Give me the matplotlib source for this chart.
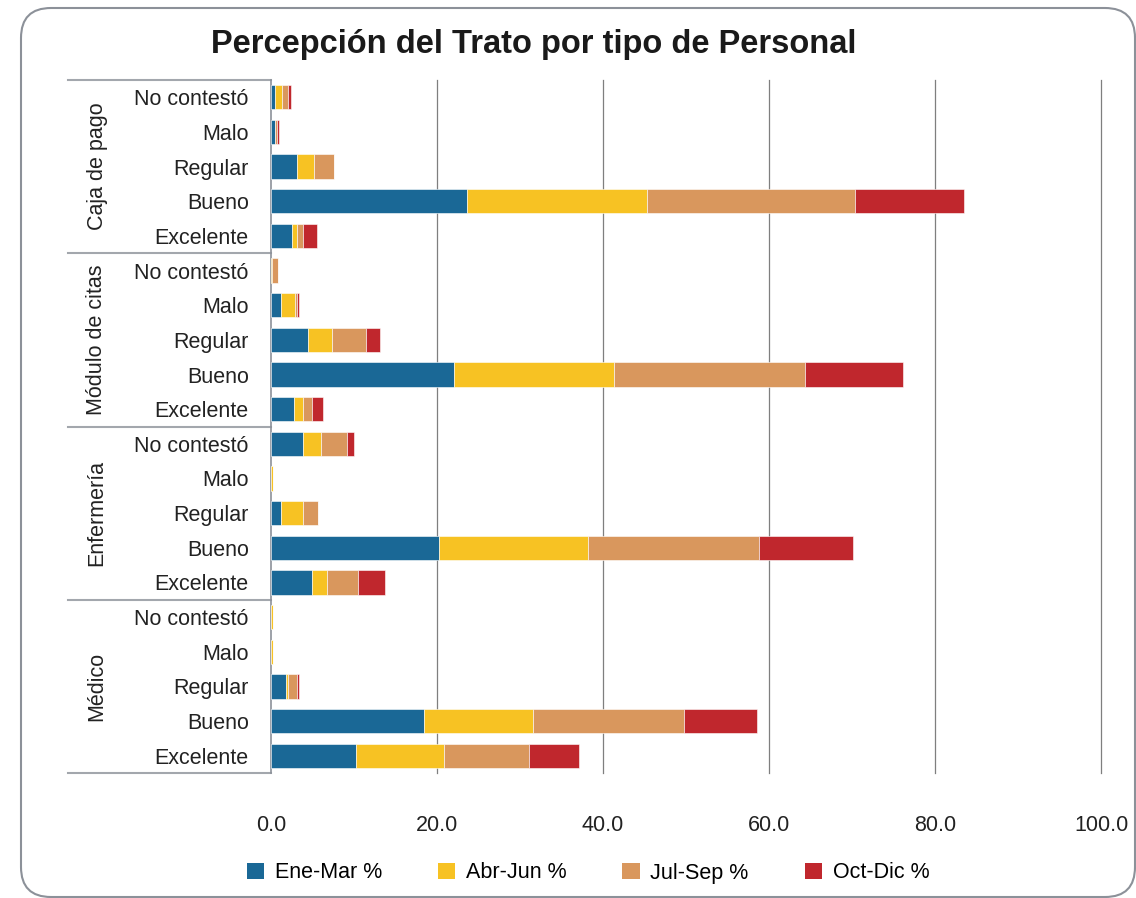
import numpy as np
import matplotlib.pyplot as plt
from matplotlib.patches import FancyBboxPatch, Patch
from matplotlib.transforms import IdentityTransform, blended_transform_factory

# groups top to bottom, each with the same rating categories
groups = ["Caja de pago", "Módulo de citas", "Enfermería", "Médico"]
ratings = ["No contestó", "Malo", "Regular", "Bueno", "Excelente"]
series = ["Ene-Mar %", "Abr-Jun %", "Jul-Sep %", "Oct-Dic %"]
colors = ["#1a6896", "#f7c223", "#d9975d", "#c0272d"]

# values per row (groups x ratings), one list per quarter
ene_mar = [0.5, 0.5, 3.1, 23.6, 2.5,
           0.0, 1.2, 4.4, 22.0, 2.8,
           3.9, 0.0, 1.2, 20.2, 4.9,
           0.0, 0.0, 1.8, 18.4, 10.2]
abr_jun = [0.8, 0.0, 2.1, 21.7, 0.6,
           0.1, 1.7, 2.9, 19.3, 1.1,
           2.1, 0.3, 2.7, 18.0, 1.9,
           0.3, 0.3, 0.2, 13.2, 10.6]
jul_sep = [0.8, 0.2, 2.4, 25.1, 0.8,
           0.8, 0.2, 4.2, 23.0, 1.0,
           3.2, 0.0, 1.8, 20.6, 3.7,
           0.0, 0.0, 1.1, 18.2, 10.3]
oct_dic = [0.3, 0.3, 0.0, 13.1, 1.6,
           0.0, 0.3, 1.6, 11.8, 1.4,
           0.8, 0.0, 0.0, 11.3, 3.2,
           0.0, 0.0, 0.3, 8.8, 6.0]
xticks = [0, 20, 40, 60, 80, 100]

data = [ene_mar, abr_jun, jul_sep, oct_dic]
font = ["Liberation Sans", "DejaVu Sans"]
fs = 15.5

fig = plt.figure(figsize=(11.36, 8.98), dpi=100)
fig.patch.set_facecolor("white")

# rounded frame around the chart
frame = FancyBboxPatch((21, 1), 1114, 889, boxstyle="round,pad=0,rounding_size=30",
                       transform=IdentityTransform(), facecolor="none",
                       edgecolor="#8c9199", linewidth=1.5)
fig.patches.append(frame)

ax = fig.add_axes([271 / 1136, 1 - 773 / 898, 830 / 1136, 693 / 898])

n = len(groups) * len(ratings)
y = np.arange(n)
left = np.zeros(n)
for vals, c, name in zip(data, colors, series):
    vals = np.array(vals)
    ax.barh(y, vals, left=left, height=0.7, color=c, edgecolor="white",
            linewidth=0.4, label=name, zorder=3)
    left += vals

ax.set_ylim(n - 0.5, -0.5)
ax.set_xlim(0, 100)
ax.set_xticks(xticks)
ax.set_xticklabels([f"{v:.1f}" for v in xticks], family=font, fontsize=fs, color="#222222")
ax.tick_params(axis="x", length=0, pad=30)
ax.set_yticks(y)
ax.set_yticklabels(ratings * len(groups), family=font, fontsize=fs, color="#222222")
ax.tick_params(axis="y", length=0, pad=16)
for v in xticks[1:]:
    ax.axvline(v, color="#7f7f7f", linewidth=0.9, zorder=0, clip_on=False)
for s in ["top", "right", "bottom"]:
    ax.spines[s].set_visible(False)
ax.spines["left"].set_color("#8c9199")
ax.spines["left"].set_linewidth(1.2)

# multi-level category axis: separators and group labels
trans = blended_transform_factory(ax.transAxes, ax.transData)
x0 = (68 - 271) / 830
for k in range(len(groups) + 1):
    yb = k * len(ratings) - 0.5
    ax.plot([x0, 0], [yb, yb], transform=trans, color="#a3a7ad", lw=1.5, clip_on=False)
for k, g in enumerate(groups):
    yc = k * len(ratings) + (len(ratings) - 1) / 2
    ax.text((97 - 271) / 830, yc, g, transform=trans, rotation=90, ha="center",
            va="center", family=font, fontsize=fs, color="#222222")

fig.text(534 / 1136, 1 - 45 / 898, "Percepción del Trato por tipo de Personal",
         ha="center", va="center", fontsize=23.5, fontweight="bold",
         family=font, color="#1a1a1a")

handles = [Patch(facecolor=c, edgecolor="none") for c in colors]
fig.legend(handles, series, loc="center", bbox_to_anchor=(588 / 1136, 1 - 873 / 898),
           ncol=4, frameon=False, prop={"family": font, "size": fs},
           handlelength=0.8, handleheight=0.8, columnspacing=2.6, handletextpad=0.5)

fig.savefig("out.png", dpi=100, facecolor="white")
